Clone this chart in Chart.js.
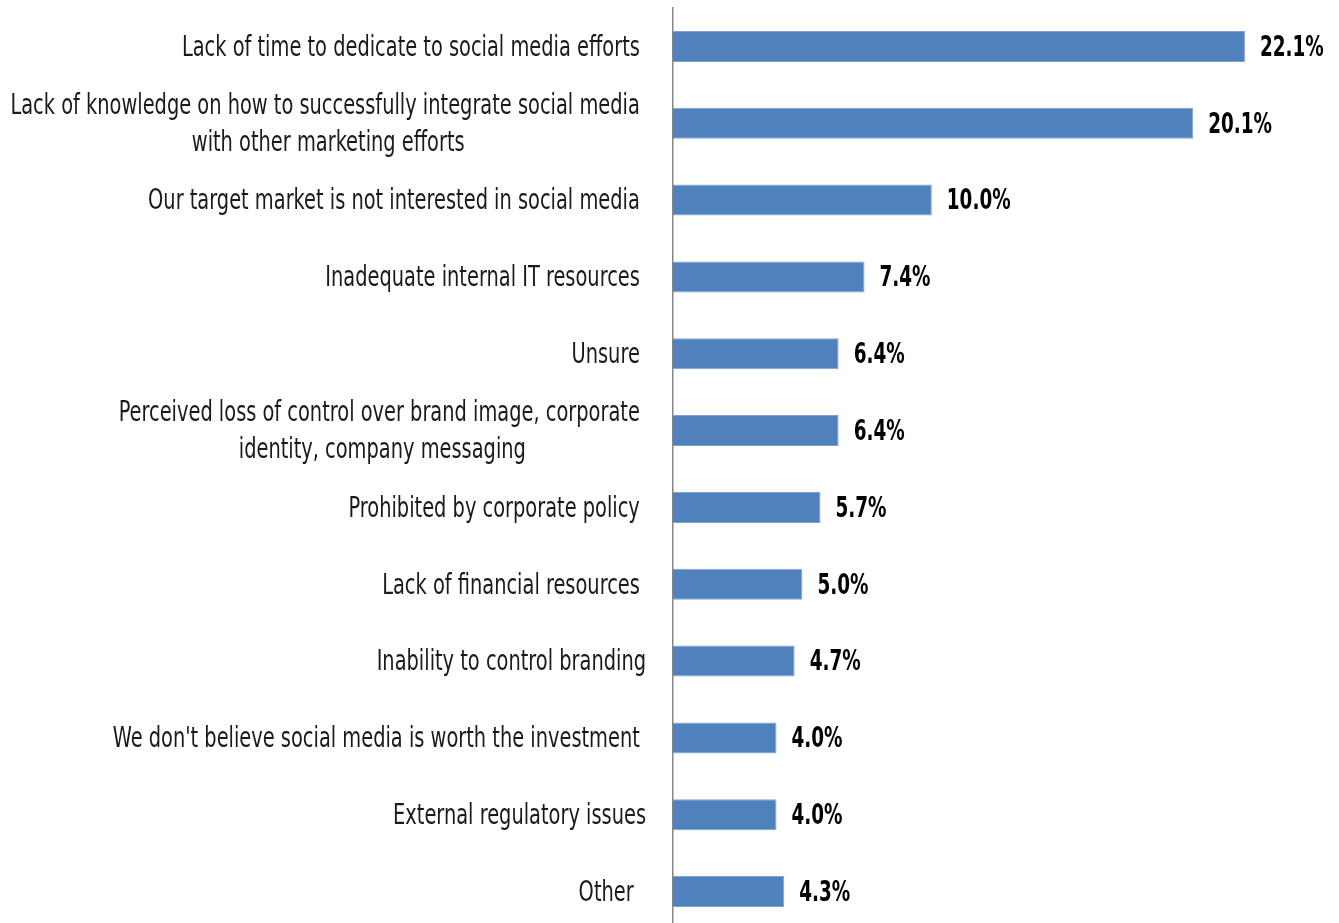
<!DOCTYPE html>
<html>
<head>
<meta charset="utf-8">
<script src="https://cdn.jsdelivr.net/npm/chart.js@4/dist/chart.umd.min.js"></script>
<style>
  html, body { margin: 0; padding: 0; background: #fff; overflow: hidden; }
  #wrap { position: relative; width: 1339px; height: 930px; }
</style>
</head>
<body>
<div id="wrap"><canvas id="chart"></canvas></div>
<script>
// Reasons for not using social media (share of respondents, %)
const categories = [
  ["Lack of time to dedicate to social media efforts "],
  ["Lack of knowledge on how to successfully integrate social media ", "with other marketing efforts"],
  ["Our target market is not interested in social media "],
  ["Inadequate internal IT resources "],
  ["Unsure "],
  ["Perceived loss of control over brand image, corporate ", "identity, company messaging"],
  ["Prohibited by corporate policy "],
  ["Lack of financial resources "],
  ["Inability to control branding"],
  ["We don't believe social media is worth the investment "],
  ["External regulatory issues"],
  ["Other  "]
];
const shares = [22.1, 20.1, 10.0, 7.4, 6.4, 6.4, 5.7, 5.0, 4.7, 4.0, 4.0, 4.3];
const axisMax = 25;

const FONT = "'Liberation Sans Narrow', 'DejaVu Sans Condensed', 'Roboto Condensed', sans-serif";
const AXIS_X = 673;
const LABEL_SX = 0.77;   // horizontal squeeze for a tall, narrow face
const VALUE_SX = 0.73;

function drawSqueezed(ctx, text, x, y, sx) {
  ctx.save();
  ctx.translate(x, y);
  ctx.scale(sx, 1);
  ctx.fillText(text, 0, 0);
  ctx.restore();
}

// Category labels: right-aligned block, lines centred within the block
const categoryLabels = {
  id: 'categoryLabels',
  afterDraw(chart) {
    const ctx = chart.ctx;
    const y = chart.scales.y;
    const right = chart.chartArea.left - 27;
    const lh = 37;
    ctx.save();
    ctx.font = "28px " + FONT;
    ctx.fillStyle = '#1a1a1a';
    ctx.textBaseline = 'middle';
    ctx.textAlign = 'center';
    categories.forEach((lines, i) => {
      const cy = y.getPixelForTick(i) + 2;
      const w = Math.max(...lines.map(l => ctx.measureText(l).width)) * LABEL_SX;
      const cx = right - w / 2;
      const top = cy - (lines.length - 1) * lh / 2;
      lines.forEach((l, k) => {
        drawSqueezed(ctx, l, cx, top + k * lh, LABEL_SX);
      });
    });
    ctx.restore();
  }
};

// Value labels after each bar end
const valueLabels = {
  id: 'valueLabels',
  afterDatasetsDraw(chart) {
    const ctx = chart.ctx;
    const meta = chart.getDatasetMeta(0);
    ctx.save();
    ctx.font = "bold 28px " + FONT;
    ctx.fillStyle = '#000';
    ctx.textBaseline = 'middle';
    ctx.textAlign = 'left';
    meta.data.forEach((bar, i) => {
      drawSqueezed(ctx, shares[i].toFixed(1) + '%', bar.x + 15, bar.y + 2, VALUE_SX);
    });
    ctx.restore();
  }
};

new Chart(document.getElementById('chart'), {
  type: 'bar',
  data: {
    labels: categories.map(c => c.join(' ')),
    datasets: [{
      data: shares,
      backgroundColor: '#4F81BD',
      borderColor: '#7FA3D0',
      borderWidth: 1,
      borderSkipped: 'left',
      categoryPercentage: 1,
      barPercentage: 0.403
    }]
  },
  options: {
    indexAxis: 'y',
    responsive: true,
    maintainAspectRatio: false,
    animation: false,
    layout: { padding: { top: 8, right: 19, bottom: 0, left: 0 } },
    plugins: { legend: { display: false }, tooltip: { enabled: false } },
    scales: {
      x: {
        display: false,
        min: 0,
        max: axisMax
      },
      y: {
        grid: { display: false, drawTicks: false },
        border: { display: true, color: '#868686', width: 1.5 },
        ticks: { display: false },
        afterFit(scale) { scale.width = AXIS_X; }
      }
    }
  },
  plugins: [categoryLabels, valueLabels]
});
</script>
</body>
</html>
